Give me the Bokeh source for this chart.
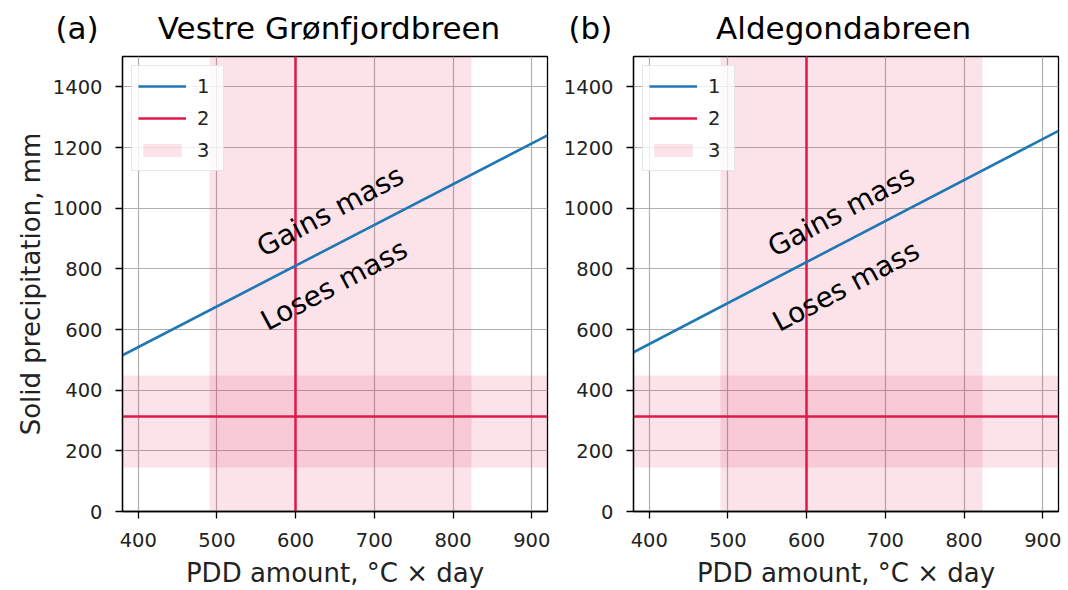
from bokeh.plotting import figure
from bokeh.layouts import row
from bokeh.models import Legend, LegendItem, FixedTicker, Range1d
from bokeh.core.properties import value
from bokeh.embed import file_html
from bokeh.resources import INLINE

# ---- data ----
titles = ["Vestre Grønfjordbreen", "Aldegondabreen"]
panel_tags = ["(a)", "(b)"]
pdd = [380, 920]
precip_a = [515, 1240]
precip_b = [525, 1255]
pdd_mean = 600
pdd_band = [490, 824]
precip_mean = 312
precip_band = [145, 450]
gains_xy_a = (644, 990)
loses_xy_a = (649, 747)
gains_xy_b = (644, 990)
loses_xy_b = (650, 743)
x_ticks = [400, 500, 600, 700, 800, 900]
y_ticks = [0, 200, 400, 600, 800, 1000, 1200, 1400]
legend_labels = ["1", "2", "3"]

BLUE = "#1f77b4"
RED = "#e0194a"
FONT = "DejaVu Sans"
NBSP = "\u00a0"


def make_panel(idx, precip, gains_xy, loses_xy, width, bl, br, ylabel, tag_offset, gap):
    p = figure(width=width, height=590, output_backend="svg", toolbar_location=None,
               x_range=Range1d(380, 920), y_range=Range1d(0, 1500),
               min_border_left=bl, min_border_right=br, min_border_top=55, min_border_bottom=79)
    p.title.text = panel_tags[idx] + gap + titles[idx]
    p.title.align = "left"
    p.title.offset = tag_offset
    p.title.vertical_align = "top"
    p.title.text_font = FONT
    p.title.text_font_size = "31px"
    p.title.text_font_style = "normal"
    p.title.text_color = "black"
    p.title.standoff = 18

    p.outline_line_color = "black"
    p.outline_line_width = 1.3
    p.outline_line_alpha = 1

    for ax in (p.xaxis[0], p.yaxis[0]):
        ax.axis_line_color = "black"
        ax.axis_line_width = 1.3
        ax.major_tick_line_color = "black"
        ax.major_tick_line_width = 1.3
        ax.major_tick_out = 7
        ax.major_tick_in = 0
        ax.minor_tick_line_color = None
        ax.major_label_text_font = FONT
        ax.major_label_text_font_size = "19.5px"
        ax.major_label_text_color = "#222222"
        ax.axis_label_text_font = FONT
        ax.axis_label_text_font_size = "26px"
        ax.axis_label_text_font_style = "normal"
        ax.axis_label_text_color = "#222222"
    p.xaxis.major_label_standoff = 14
    p.yaxis.major_label_standoff = 13
    p.xaxis.ticker = FixedTicker(ticks=x_ticks)
    p.yaxis.ticker = FixedTicker(ticks=y_ticks)
    p.xaxis.axis_label = "PDD amount, °C × day"
    p.xaxis.axis_label_standoff = 8
    if ylabel:
        p.yaxis.axis_label = "Solid precipitation, mm"
        p.yaxis.axis_label_standoff = 4

    p.grid.grid_line_color = "#b0b0b0"
    p.grid.grid_line_width = 1.2
    p.grid.grid_line_alpha = 1

    vs = p.vstrip(x0=[pdd_band[0]], x1=[pdd_band[1]], fill_color=RED, fill_alpha=0.12, line_color=None)
    p.hstrip(y0=[precip_band[0]], y1=[precip_band[1]], fill_color=RED, fill_alpha=0.12, line_color=None)
    vl = p.vspan(x=[pdd_mean], line_color=RED, line_width=2.5)
    p.hspan(y=[precip_mean], line_color=RED, line_width=2.5)
    bl_r = p.line(pdd, precip, line_color=BLUE, line_width=2.6)

    p.text(x=[gains_xy[0]], y=[gains_xy[1]], text=["Gains mass"], angle=28, angle_units="deg",
           text_align="center", text_baseline="middle", text_font=value(FONT),
           text_font_size="28px", text_color="black")
    p.text(x=[loses_xy[0]], y=[loses_xy[1]], text=["Loses mass"], angle=28, angle_units="deg",
           text_align="center", text_baseline="middle", text_font=value(FONT),
           text_font_size="28px", text_color="black")

    leg = Legend(items=[LegendItem(label=legend_labels[0], renderers=[bl_r]),
                        LegendItem(label=legend_labels[1], renderers=[vl]),
                        LegendItem(label=legend_labels[2], renderers=[vs])],
                 location="top_left")
    leg.margin = 9
    leg.padding = 6
    leg.spacing = 4
    leg.glyph_width = 48
    leg.glyph_height = 16
    leg.label_height = 28
    leg.label_width = 20
    leg.label_standoff = 11
    leg.label_text_font = FONT
    leg.label_text_font_size = "19.5px"
    leg.label_text_color = "#222222"
    leg.background_fill_color = "white"
    leg.background_fill_alpha = 0.8
    leg.border_line_color = "#d0d0d0"
    leg.border_line_width = 1
    p.add_layout(leg)
    return p


pa = make_panel(0, precip_a, gains_xy_a, loses_xy_a, 560, 122, 13, True, -67, NBSP * 6)
pb = make_panel(1, precip_b, gains_xy_b, loses_xy_b, 508, 72, 10, False, -65, NBSP * 10 + "\u2006")

layout = row(pa, pb)
open("out.html", "w").write(file_html(layout, INLINE))
